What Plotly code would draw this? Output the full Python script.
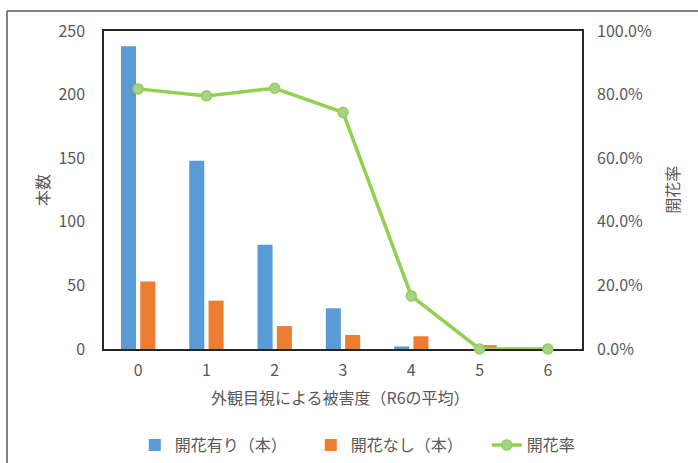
import plotly.graph_objects as go

categories = ["0", "1", "2", "3", "4", "5", "6"]
flowered = [238, 148, 82, 32, 2, 0, 0]
not_flowered = [53, 38, 18, 11, 10, 3, 0]
flower_rate = [0.818, 0.796, 0.820, 0.744, 0.167, 0.0, 0.0]

left_ticks = [0, 50, 100, 150, 200, 250]
right_ticks = [0, 0.2, 0.4, 0.6, 0.8, 1.0]

FONT = "Noto Sans CJK JP, sans-serif"
GRAY = "#595959"

fig = go.Figure()
fig.add_trace(go.Bar(x=categories, y=flowered, name="開花有り（本）",
                     marker=dict(color="#5B9BD5", line=dict(width=0))))
fig.add_trace(go.Bar(x=categories, y=not_flowered, name="開花なし（本）",
                     marker=dict(color="#ED7D31", line=dict(width=0))))
fig.add_trace(go.Scatter(x=categories, y=flower_rate, name="開花率", yaxis="y2",
                         mode="lines+markers", cliponaxis=False,
                         line=dict(color="#92D050", width=3.5),
                         marker=dict(size=10, color="#A9D18E",
                                     line=dict(color="#92D050", width=1.5))))

fig.update_layout(
    width=698, height=463,
    margin=dict(l=104, r=116, t=31, b=114, autoexpand=False),
    paper_bgcolor="white", plot_bgcolor="white",
    font=dict(family=FONT, size=16, color=GRAY),
    barmode="group", bargap=0.435, bargroupgap=0.22,
    xaxis=dict(type="category", range=[-0.5, 6.5], showgrid=False,
               showline=True, linecolor="#262626", linewidth=1.5, mirror=True,
               ticks="", ticklabelstandoff=6, layer="below traces",
               tickfont=dict(family=FONT, size=16, color=GRAY)),
    yaxis=dict(range=[0, 250], tickvals=left_ticks, showgrid=False, zeroline=False,
               showline=True, linecolor="#262626", linewidth=1.5, mirror=True,
               ticks="", ticklabelstandoff=14, layer="below traces",
               tickfont=dict(family=FONT, size=16, color=GRAY)),
    yaxis2=dict(range=[0, 1], tickvals=right_ticks, tickformat=".1%",
                overlaying="y", side="right", showgrid=False, zeroline=False,
                showline=False, ticks="", ticklabelstandoff=14,
                tickfont=dict(family=FONT, size=16, color=GRAY)),
    legend=dict(orientation="h", xref="paper", yref="paper",
                x=1.169, xanchor="right", y=-0.302, yanchor="middle",
                entrywidth=131, entrywidthmode="pixels",
                font=dict(family=FONT, size=16, color=GRAY),
                traceorder="normal", bgcolor="rgba(0,0,0,0)"),
    showlegend=True,
)

fig.add_annotation(text="本数", xref="paper", yref="paper", x=-0.1297, y=0.5,
                   xanchor="center", yanchor="middle",
                   textangle=-90, showarrow=False,
                   font=dict(family=FONT, size=16, color=GRAY))
fig.add_annotation(text="開花率", xref="paper", yref="paper", x=1.188, y=0.5,
                   xanchor="center", yanchor="middle",
                   textangle=-90, showarrow=False,
                   font=dict(family=FONT, size=16, color=GRAY))
fig.add_annotation(text="外観目視による被害度（R6の平均）", xref="paper", yref="paper",
                   x=0.494, y=-0.151, xanchor="center", yanchor="middle",
                   showarrow=False,
                   font=dict(family=FONT, size=16, color=GRAY))

# outer chart-area frame (cropped at right and bottom)
fig.add_shape(type="line", xref="paper", yref="paper", x0=-0.2029, x1=-0.2029,
              y0=-0.40, y1=1.0629, line=dict(color="#595959", width=1.5))
fig.add_shape(type="line", xref="paper", yref="paper", x0=-0.2029, x1=1.26,
              y0=1.0629, y1=1.0629, line=dict(color="#595959", width=1.5))

fig.write_html("out.html")
